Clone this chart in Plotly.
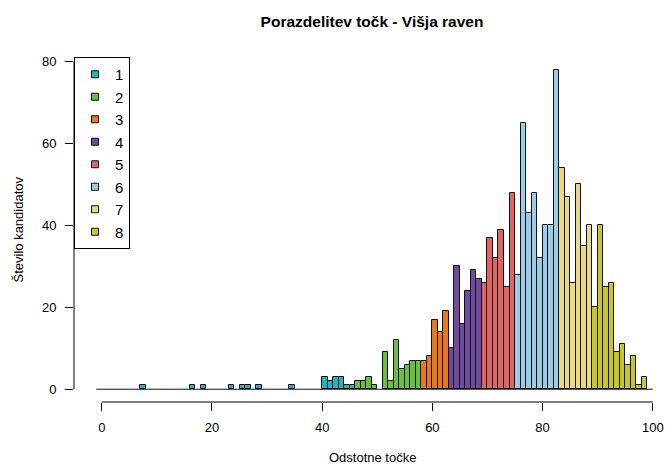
import plotly.graph_objects as go

# ---- data ----
# left edge of each 1-point bin that has a non-zero count, and its count
score_bins = [7, 16, 18, 23, 25, 26, 28, 34, 40, 41, 42, 43, 44, 45,
              46, 47, 48, 49, 51, 52, 53, 54, 55, 56, 57,
              58, 59, 60, 61, 62,
              63, 64, 65, 66, 67, 68,
              69, 70, 71, 72, 73, 74,
              75, 76, 77, 78, 79, 80, 81, 82,
              83, 84, 85, 86, 87, 88,
              89, 90, 91, 92, 93, 94, 95, 96, 97, 98]
counts = [1, 1, 1, 1, 1, 1, 1, 1, 3, 2, 3, 3, 1, 1,
          2, 2, 3, 1, 9, 2, 12, 5, 6, 7, 7,
          7, 8, 17, 14, 19,
          10, 30, 16, 24, 29, 27,
          26, 37, 32, 39, 25, 48,
          28, 65, 43, 48, 32, 40, 40, 78,
          54, 47, 26, 50, 35, 40,
          20, 40, 25, 26, 9, 11, 6, 8, 1, 3]
grades = ["1", "2", "3", "4", "5", "6", "7", "8"]
grade_lower = [0, 46, 58, 63, 69, 75, 83, 89]   # first score bin of each grade
grade_colors = ["#22B5BE", "#6BBE3F", "#E8781E", "#6F4A9E",
                "#E06464", "#9DCDE6", "#EAD985", "#C9C52C"]
bin_range = [-1, 100]          # histogram breaks span
x_ticks = [0, 20, 40, 60, 80, 100]
y_ticks = [0, 20, 40, 60, 80]

title = "Porazdelitev točk - Višja raven"
x_title = "Odstotne točke"
y_title = "Število kandidatov"

FONT = "Liberation Sans, Arial, Helvetica, sans-serif"
W, H = 665, 466
ML, MT, MB, MR = 74, 57, 64, 0

fig = go.Figure()

# baseline formed by empty bins
fig.add_trace(go.Scatter(x=bin_range, y=[0, 0], mode="lines",
                         line=dict(color="#111111", width=1),
                         showlegend=False, hoverinfo="skip"))

bounds = grade_lower + [bin_range[1]]
for g, name in enumerate(grades):
    xs, ys = [], []
    for b, c in zip(score_bins, counts):
        if bounds[g] <= b < bounds[g + 1]:
            xs.append(b + 0.5)
            ys.append(c)
    fig.add_trace(go.Bar(x=xs, y=ys, width=1,
                         marker=dict(color=grade_colors[g],
                                     line=dict(color="#111111", width=1)),
                         showlegend=False, name=name))

# legend entries (small squares like R's legend)
for g, name in enumerate(grades):
    fig.add_trace(go.Scatter(x=[None], y=[None], mode="markers", name=name,
                             marker=dict(symbol="square", size=7,
                                         color=grade_colors[g],
                                         line=dict(color="#111111", width=1))))

plot_w = W - ML - MR
px_per_unit = (652 - 101) / 100.0
x0 = -5.04
x1 = x0 + plot_w / px_per_unit

fig.update_layout(
    width=W, height=H,
    margin=dict(l=ML, r=MR, t=MT, b=MB, pad=0),
    paper_bgcolor="white", plot_bgcolor="white",
    font=dict(family=FONT, size=13, color="black"),
    barmode="overlay", bargap=0,
    title=dict(text="<b>" + title + "</b>", font=dict(size=15.5, family=FONT),
               x=(ML + 298) / W, xref="container", xanchor="center",
               y=1 - 22 / H, yref="container", yanchor="middle"),
    showlegend=True,
    legend=dict(x=0, y=1, xanchor="left", yanchor="top",
                bgcolor="white", bordercolor="black", borderwidth=1,
                font=dict(size=15, family=FONT), tracegroupgap=0),
    xaxis=dict(range=[x0, x1], showgrid=False, zeroline=False, showline=False,
               tickvals=x_ticks, ticks="outside", ticklen=8, tickwidth=1,
               tickcolor="black", tickfont=dict(size=13), ticklabelstandoff=5),
    yaxis=dict(range=[-3.12, 81.12], showgrid=False, zeroline=False, showline=False,
               tickvals=y_ticks, ticks="outside", ticklen=8, tickwidth=1,
               tickcolor="black", tickfont=dict(size=13), ticklabelstandoff=6),
    shapes=[
        dict(type="line", xref="x", yref="paper", x0=x_ticks[0], x1=x_ticks[-1],
             y0=0, y1=0, line=dict(color="black", width=1)),
        dict(type="line", xref="paper", yref="y", x0=0, x1=0,
             y0=y_ticks[0], y1=y_ticks[-1], line=dict(color="black", width=1)),
    ],
    annotations=[
        dict(text=x_title, xref="paper", yref="paper",
             x=(298) / plot_w, y=-(457 - (H - MB)) / (H - MT - MB),
             xanchor="center", yanchor="middle", showarrow=False,
             font=dict(size=13)),
        dict(text=y_title, xref="paper", yref="paper",
             x=-(ML - 18) / plot_w, y=0.5, textangle=-90,
             xanchor="center", yanchor="middle", showarrow=False,
             font=dict(size=13)),
    ],
)

fig.write_html("out.html")
